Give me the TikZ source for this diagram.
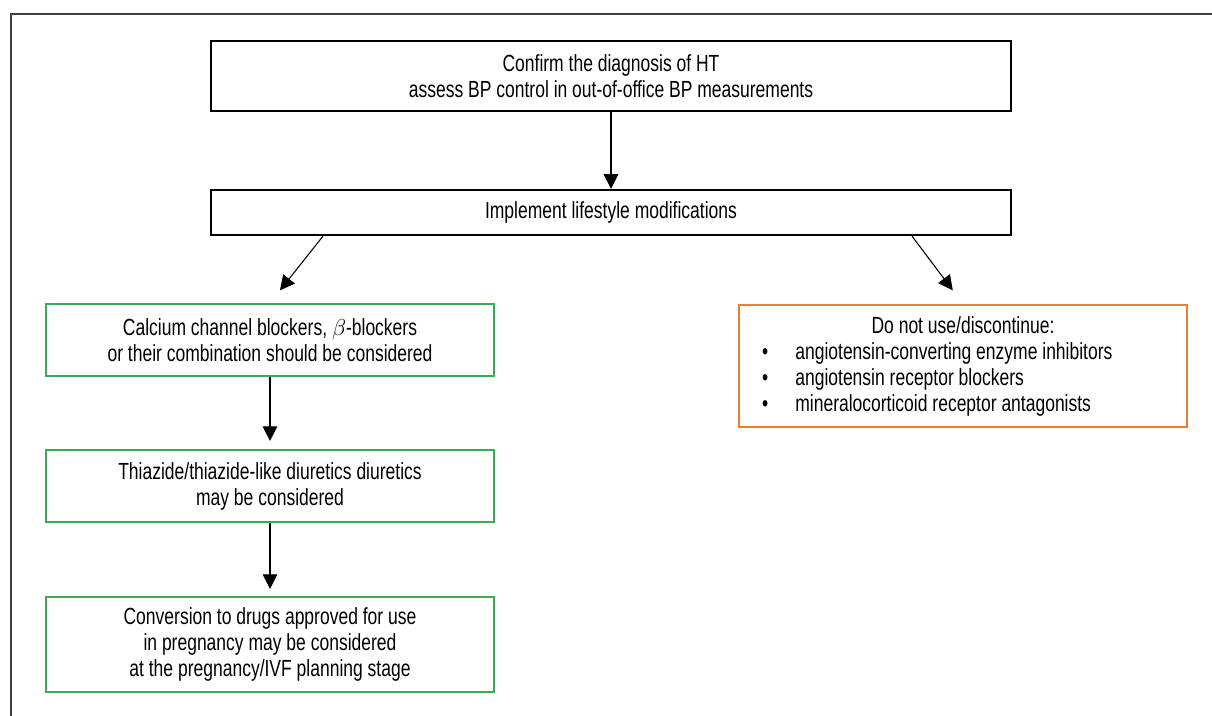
\documentclass[tikz,border=0pt]{standalone}
\usepackage{fontspec}
\setmainfont{Liberation Sans}[FakeStretch=0.75]
\usetikzlibrary{arrows.meta}
\definecolor{boxgreen}{RGB}{60,170,90}
\definecolor{boxorange}{RGB}{237,125,49}
\begin{document}
\begin{tikzpicture}[x=0.75pt,y=-0.75pt,
  every node/.style={font=\fontsize{17.5}{19.5}\selectfont},
  bbox/.style={draw=black, line width=1.7pt, minimum width=600pt, align=center, inner sep=0pt},
  gbox/.style={draw=boxgreen, line width=1.6pt, minimum width=336pt, align=center, inner sep=0pt},
  obox/.style={draw=boxorange, line width=1.6pt, minimum width=336pt, minimum height=91.5pt, align=left, inner sep=0pt},
  arr/.style={-{Triangle[length=11pt,width=11pt]}, line width=0.8pt}
]
\useasboundingbox (0,0) rectangle (1212,716);
\draw[line width=1pt, black!75] (11,716) -- (11,14) -- (1212,14);

\node[bbox, minimum height=52.5pt] (b1) at (611,76) {Confirm the diagnosis of HT\\assess BP control in out-of-office BP measurements};
\node[bbox, minimum height=33.75pt] (b2) at (611,212.5) {Implement lifestyle modifications};
\node[gbox, minimum height=54pt] (g1) at (270,340) {Calcium channel blockers, $\beta$-blockers\\or their combination should be considered};
\node[gbox, minimum height=54pt] (g2) at (270,486) {Thiazide/thiazide-like diuretics diuretics\\may be considered};
\node[gbox, minimum height=71.25pt] (g3) at (270,644.5) {Conversion to drugs approved for use\\in pregnancy may be considered\\at the pregnancy/IVF planning stage};
\node[obox] (o) at (963,366) {\makebox[301.5pt][c]{Do not use/discontinue:}\\
\makebox[25pt][l]{\textbullet}angiotensin-converting enzyme inhibitors\hfill\null\\
\makebox[25pt][l]{\textbullet}angiotensin receptor blockers\hfill\null\\
\makebox[25pt][l]{\textbullet}mineralocorticoid receptor antagonists\hfill\null};

\draw[arr] (b1.south) -- (b2.north);
\draw[arr, shorten >=12pt] ([xshift=-216pt]b2.south) -- (g1.north);
\draw[arr, shorten >=12.75pt] ([xshift=225.75pt]b2.south) -- (o.north);
\draw[arr, shorten >=6pt] (g1.south) -- (g2.north);
\draw[arr, shorten >=5.25pt] (g2.south) -- (g3.north);
\end{tikzpicture}
\end{document}
